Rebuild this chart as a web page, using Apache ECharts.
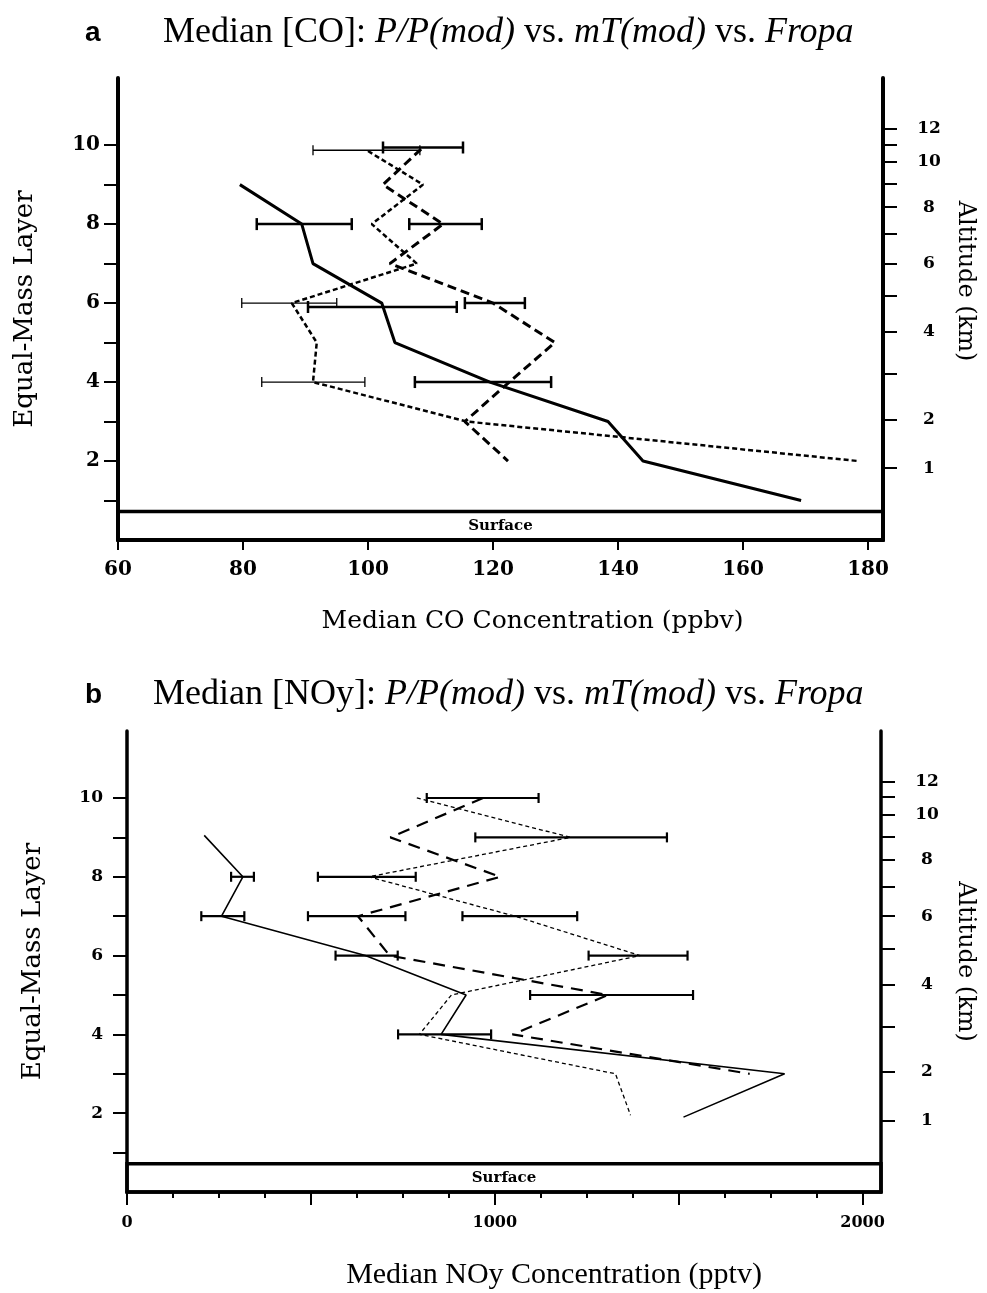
<!DOCTYPE html>
<html>
<head>
<meta charset="utf-8">
<title>Median CO / NOy by equal-mass layer</title>
<script src="https://cdn.jsdelivr.net/npm/echarts@6/dist/echarts.min.js"></script>
<style>html,body{margin:0;background:#fff}#chart{width:987px;height:1293px}</style>
</head>
<body>
<div id="chart"></div>
<script>
// ---- panel a: median CO (ppbv) by equal-mass layer
const coSolidLayer = [9, 8, 7, 6, 5, 4, 3, 2, 1];
const coSolid = [79.5, 89.4, 91.2, 102.2, 104.3, 119.5, 138.4, 144, 169.3];
const coDashLayer = [9.9, 9, 8, 7, 6, 5, 4, 3, 2];
const coDash = [108.5, 102.4, 112, 103.5, 120, 129.9, 122.6, 115.5, 122.4];
const coDotLayer = [9.85, 9, 8, 7, 6, 5, 4, 3, 2];
const coDot = [100, 108.8, 100.6, 107.8, 87.8, 91.8, 91.2, 115.8, 178.4];
// error bars: layer, low, high
const coSolidBarLayer = [8, 5.9, 4];
const coSolidBarLow = [82.2, 90.4, 107.5];
const coSolidBarHigh = [97.4, 114.2, 129.3];
const coDashBarLayer = [9.94, 8, 6];
const coDashBarLow = [102.4, 106.6, 115.5];
const coDashBarHigh = [115.2, 118.2, 125.1];
const coDotBarLayer = [9.87, 6, 4];
const coDotBarLow = [91.2, 79.8, 83];
const coDotBarHigh = [108.3, 95, 99.5];

// ---- panel b: median NOy (pptv)
const noSolidLayer = [9.05, 8, 7, 6, 5, 4, 3, 1.9];
const noSolid = [210, 315, 257, 648, 922, 854, 1788, 1513];
const noDashLayer = [10, 9, 8, 7, 6, 5, 4, 3];
const noDash = [968, 716, 1015, 628, 714, 1308, 1048, 1693];
const noDotLayer = [10, 9, 8, 7, 6, 5, 4, 3, 1.95];
const noDot = [788, 1206, 657, 1055, 1395, 882, 795, 1328, 1369];
const noSolidBarLayer = [8, 7, 6, 4];
const noSolidBarLow = [283, 202, 567, 737];
const noSolidBarHigh = [345, 319, 736, 990];
const noDashBarLayer = [10, 7, 5];
const noDashBarLow = [815, 492, 1096];
const noDashBarHigh = [1119, 757, 1539];
const noDotBarLayer = [9, 8, 7, 6];
const noDotBarLow = [947, 519, 912, 1255];
const noDotBarHigh = [1468, 785, 1224, 1524];

// altitude scale on the right: km and the layer it falls on
const altKm = [1, 2, 3, 4, 5, 6, 7, 8, 9, 10, 11, 12];
const altLayer = [1.82, 3.05, 4.2, 5.27, 6.18, 7.0, 7.75, 8.43, 9.02, 9.58, 10.02, 10.42];
const altLabelled = [1, 2, 4, 6, 8, 10, 12];
const layerTicks = [1, 2, 3, 4, 5, 6, 7, 8, 9, 10];
const layerLabels = [2, 4, 6, 8, 10];
const coTicks = [60, 80, 100, 120, 140, 160, 180];
const noTicks = [0, 125, 250, 375, 500, 625, 750, 875, 1000, 1125, 1250, 1375, 1500, 1625, 1750, 1875, 2000];
const noMajorTicks = [0, 500, 1000, 1500, 2000];
const noLabels = [0, 1000, 2000];
const surfaceTop = 0.72;

const chart = echarts.init(document.getElementById('chart'));

const cm = 'DejaVu Serif';
const times = 'Liberation Serif';
const tick = size => ({ fontFamily: cm, fontWeight: 'bold', fontSize: size, color: '#000' });

const pairs = (vals, layers) => vals.map((v, i) => [v, layers[i]]);
const bars = (layers, lo, hi) => layers.map((l, i) => [l, lo[i], hi[i]]);

function barItem(width, cap) {
    return function (params, api) {
        const y = api.value(0);
        const a = api.coord([api.value(1), y]);
        const b = api.coord([api.value(2), y]);
        const s = { stroke: '#000', lineWidth: width };
        return {
            type: 'group',
            children: [
                { type: 'line', shape: { x1: a[0], y1: a[1], x2: b[0], y2: b[1] }, style: s },
                { type: 'line', shape: { x1: a[0], y1: a[1] - cap, x2: a[0], y2: a[1] + cap }, style: s },
                { type: 'line', shape: { x1: b[0], y1: b[1] - cap, x2: b[0], y2: b[1] + cap }, style: s }
            ]
        };
    };
}

function barSeries(data, xi, yi, width, cap) {
    return {
        type: 'custom', xAxisIndex: xi, yAxisIndex: yi, data: data,
        encode: { x: [1, 2], y: 0 }, renderItem: barItem(width, cap), silent: true, z: 3
    };
}

function lineSeries(data, xi, yi, width, dash) {
    return {
        type: 'line', xAxisIndex: xi, yAxisIndex: yi, data: data, showSymbol: false,
        lineStyle: { color: '#000', width: width, type: dash }, silent: true, z: 4
    };
}

function surfaceSeries(xi, yi) {
    return {
        type: 'line', xAxisIndex: xi, yAxisIndex: yi, data: [], silent: true,
        markArea: {
            silent: true,
            itemStyle: { color: 'rgba(0,0,0,0)', borderColor: '#000', borderWidth: 3.5 },
            label: { show: true, position: 'inside', color: '#000', fontFamily: cm, fontWeight: 'bold', fontSize: 15 },
            data: [[{ name: 'Surface', yAxis: 0 }, { yAxis: surfaceTop }]]
        }
    };
}

function leftAxis(grid, lineW, size, margin, gap) {
    return {
        type: 'value', gridIndex: grid, position: 'left', min: 0, max: 11.7,
        name: 'Equal-Mass Layer', nameLocation: 'middle', nameGap: gap, nameRotate: 90,
        nameTextStyle: { fontFamily: cm, fontSize: 26, color: '#000' },
        axisLine: { show: true, onZero: false, lineStyle: { color: '#000', width: lineW } },
        axisTick: { show: true, length: 14, customValues: layerTicks, lineStyle: { color: '#000', width: 2 } },
        axisLabel: Object.assign({ margin: margin, customValues: layerLabels }, tick(size)),
        splitLine: { show: false }
    };
}

function rightAxis(grid, lineW, gap, namePad) {
    return {
        type: 'value', gridIndex: grid, position: 'right', min: 0, max: 11.7,
        name: 'Altitude (km)', nameLocation: 'middle', nameGap: gap, nameRotate: -90,
        nameTextStyle: { fontFamily: cm, fontSize: 24, color: '#000', padding: namePad },
        axisLine: { show: true, onZero: false, lineStyle: { color: '#000', width: lineW } },
        axisTick: { show: true, length: 14, customValues: altLayer, lineStyle: { color: '#000', width: 2 } },
        axisLabel: Object.assign({
            margin: 46, align: 'center',
            customValues: altLabelled.map(k => altLayer[altKm.indexOf(k)]),
            formatter: v => {
                const i = altLayer.findIndex(l => Math.abs(l - v) < 1e-6);
                return i >= 0 ? String(altKm[i]) : '';
            }
        }, tick(17)),
        splitLine: { show: false }
    };
}

function titleRich(letterWidth) {
    return {
        fontWeight: 'normal',
        rich: {
            p: { fontFamily: 'Liberation Sans', fontWeight: 'bold', fontSize: 28, width: letterWidth, color: '#000' },
            n: { fontFamily: times, fontWeight: 'normal', fontSize: 36, color: '#000' },
            i: { fontFamily: times, fontWeight: 'normal', fontStyle: 'italic', fontSize: 36, color: '#000' }
        }
    };
}

const option = {
    animation: false,
    backgroundColor: '#fff',
    title: [
        {
            left: 80, top: 10,
            text: '{p|a}{n|Median [CO]: }{i|P/P(mod)}{n| vs. }{i|mT(mod)}{n| vs. }{i|Fropa}',
            textStyle: titleRich(78)
        },
        {
            left: 80, top: 672,
            text: '{p|b}{n|Median [NOy]: }{i|P/P(mod)}{n| vs. }{i|mT(mod)}{n| vs. }{i|Fropa}',
            textStyle: titleRich(68)
        }
    ],
    grid: [
        { left: 118, top: 78, width: 765, height: 462 },
        { left: 127, top: 731, width: 754, height: 461 }
    ],
    xAxis: [
        {
            type: 'value', gridIndex: 0, position: 'bottom', min: 60, max: 182.4,
            name: 'Median CO Concentration (ppbv)', nameLocation: 'middle', nameGap: 69,
            nameTextStyle: { fontFamily: cm, fontSize: 25, color: '#000', padding: [0, 0, 0, 64] },
            axisLine: { show: true, onZero: false, lineStyle: { color: '#000', width: 4 } },
            axisTick: { show: true, length: 10, customValues: coTicks, lineStyle: { color: '#000', width: 2 } },
            axisLabel: Object.assign({ margin: 20, customValues: coTicks }, tick(20)),
            splitLine: { show: false }
        },
        {
            type: 'value', gridIndex: 1, position: 'bottom', min: 0, max: 2050,
            name: 'Median NOy Concentration (pptv)', nameLocation: 'middle', nameGap: 68,
            nameTextStyle: { fontFamily: times, fontSize: 30, color: '#000', padding: [0, 0, 0, 100] },
            axisLine: { show: true, onZero: false, lineStyle: { color: '#000', width: 3.5 } },
            axisTick: { show: true, length: 6, customValues: noTicks, lineStyle: { color: '#000', width: 2 } },
            axisLabel: Object.assign({ margin: 23, customValues: noLabels, formatter: v => String(v) }, tick(16)),
            splitLine: { show: false }
        },
        {
            type: 'value', gridIndex: 1, position: 'bottom', min: 0, max: 2050,
            axisLine: { show: false, onZero: false },
            axisTick: { show: true, length: 13, customValues: noMajorTicks, lineStyle: { color: '#000', width: 2 } },
            axisLabel: { show: false },
            splitLine: { show: false }
        }
    ],
    yAxis: [
        leftAxis(0, 4, 20, 18, 80),
        rightAxis(0, 4, 70, [0, 56, 0, 0]),
        leftAxis(1, 3.5, 17, 24, 81),
        rightAxis(1, 3.5, 72, 0)
    ],
    series: [
        surfaceSeries(0, 0),
        lineSeries(pairs(coSolid, coSolidLayer), 0, 0, 3, 'solid'),
        lineSeries(pairs(coDash, coDashLayer), 0, 0, 3, [9, 5]),
        lineSeries(pairs(coDot, coDotLayer), 0, 0, 2.5, [5, 3]),
        barSeries(bars(coSolidBarLayer, coSolidBarLow, coSolidBarHigh), 0, 0, 2.5, 6),
        barSeries(bars(coDashBarLayer, coDashBarLow, coDashBarHigh), 0, 0, 2.5, 6),
        barSeries(bars(coDotBarLayer, coDotBarLow, coDotBarHigh), 0, 0, 1.3, 5),

        surfaceSeries(1, 2),
        lineSeries(pairs(noSolid, noSolidLayer), 1, 2, 1.6, 'solid'),
        lineSeries(pairs(noDash, noDashLayer), 1, 2, 2.2, [12, 8]),
        lineSeries(pairs(noDot, noDotLayer), 1, 2, 1.3, [4, 3]),
        barSeries(bars(noSolidBarLayer, noSolidBarLow, noSolidBarHigh), 1, 2, 2.2, 5),
        barSeries(bars(noDashBarLayer, noDashBarLow, noDashBarHigh), 1, 2, 2.2, 5),
        barSeries(bars(noDotBarLayer, noDotBarLow, noDotBarHigh), 1, 2, 2.2, 5)
    ]
};

chart.setOption(option);
</script>
</body>
</html>
